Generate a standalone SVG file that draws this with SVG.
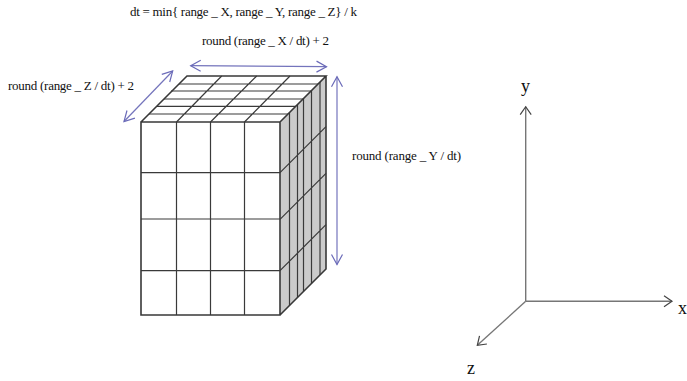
<svg xmlns="http://www.w3.org/2000/svg" width="687" height="381" viewBox="0 0 687 381">
<style>
text{font-family:"Liberation Serif","Times New Roman",serif;fill:#111}
.s{font-size:13px}
.a{font-size:18px}
.g{stroke:#3a3a3a;stroke-width:1.2;fill:none}
.o{stroke:#383838;stroke-width:1.6;fill:none}
.b{stroke:#7474bc;stroke-width:1.2;fill:none}
.x{stroke:#767676;stroke-width:1.4;fill:none}
</style>
<defs>
<marker id="bh" markerUnits="userSpaceOnUse" markerWidth="16" markerHeight="16" refX="13" refY="8" orient="auto-start-reverse"><path d="M3 2.500L13 8L3 13.500" fill="none" stroke="#6a6ab8" stroke-width="1.2"/></marker>
<marker id="xh" markerUnits="userSpaceOnUse" markerWidth="16" markerHeight="16" refX="13" refY="8" orient="auto"><path d="M5 2.500L13 8L5 13.500" fill="none" stroke="#444" stroke-width="1.2"/></marker>
</defs>
<g id="box">
<rect x="141" y="122" width="139" height="193" fill="#fff"/>
<polygon points="280,122 326,76 326,269 280,315" fill="#cbcbcb"/>
<polygon points="141,122 187,76 326,76 280,122" fill="#fff"/>
<path class="g" d="M176.500 122V315M210.500 122V315M244.500 122V315M141 172.700H280M141 219H280M141 270.700H280"/>
<path class="g" d="M176.500 122L221.700 76M210.500 122L256.700 76M244.500 122L290 76M179 84H318M171 91H311M164 99H303M157 106.300H296M149 114H288"/>
<path class="g" d="M289.500 112.500V305.500M297.500 104.500V297.500M303.500 98.500V291.500M311.500 90.500V283.500M320 82V275M280 172.700L326 126.700M280 219.300L326 173.300M280 270.700L326 224.700"/>
<path class="o" d="M141 122H280V315H141ZM141 122L187 76H326L280 122M326 76V269L280 315"/>
</g>
<g id="connectors">
<line class="b" x1="190.700" y1="65.700" x2="326.500" y2="66.700" marker-start="url(#bh)" marker-end="url(#bh)"/>
<line class="b" x1="124" y1="121.500" x2="172.700" y2="71" marker-start="url(#bh)" marker-end="url(#bh)"/>
<line class="b" x1="337" y1="76.700" x2="337" y2="264.500" marker-start="url(#bh)" marker-end="url(#bh)"/>
<line class="x" x1="525.700" y1="301.300" x2="525.700" y2="106.700" marker-end="url(#xh)"/>
<line class="x" x1="525.700" y1="301.300" x2="672" y2="301.300" marker-end="url(#xh)"/>
<line class="x" x1="525.700" y1="301.300" x2="477.300" y2="345.300" marker-end="url(#xh)"/>
</g>
<g id="labels">
<text class="s" x="130" y="16" textLength="227" lengthAdjust="spacing">dt = min{ range _ X, range _ Y, range _ Z} / k</text>
<text class="s" x="202" y="45" textLength="127" lengthAdjust="spacing">round (range _ X / dt) + 2</text>
<text class="s" x="8" y="90" textLength="126" lengthAdjust="spacing">round (range _ Z / dt) + 2</text>
<text class="s" x="352" y="160" textLength="109" lengthAdjust="spacing">round (range _ Y / dt)</text>
<text class="a" x="521" y="92">y</text>
<text class="a" x="678" y="314">x</text>
<text class="a" x="467" y="374">z</text>
</g>
</svg>
